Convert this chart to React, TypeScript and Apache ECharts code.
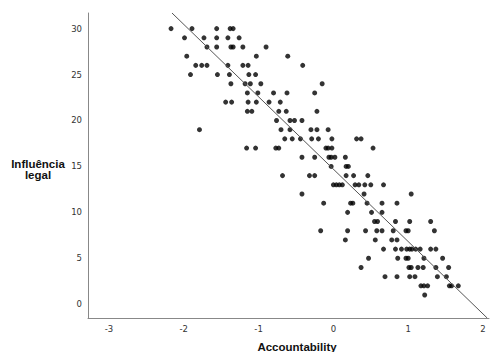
import React, { useEffect, useRef } from "react";
import * as echarts from "echarts";

// Influência legal (y) values, grouped by row, with Accountability (x) values
const Y30 = [-2.17, -1.89, -1.56, -1.38, -1.34];
const Y29 = [-1.99, -1.73, -1.56, -1.41, -1.26];
const Y28 = [-1.69, -1.56, -1.37, -1.34, -1.21, -0.9];
const Y27 = [-1.96, -1.03, -0.61];
const Y26 = [-1.84, -1.76, -1.69, -1.41, -1.21, -1.14, -0.41];
const Y25 = [-1.91, -1.55, -1.39, -1.13, -1.04];
const Y24 = [-1.37, -1.18, -1.11, -0.97, -0.15];
const Y23 = [-1.15, -1.01, -0.8, -0.62, -0.25];
const Y22 = [-1.44, -1.36, -1.14, -1.03, -0.86, -0.71];
const Y21 = [-1.15, -1.09, -0.73, -0.63, -0.22];
const Y20 = [-0.76, -0.58, -0.52, -0.42];
const Y19 = [-1.79, -0.7, -0.58, -0.3, -0.22, -0.07];
const Y18 = [-0.65, -0.55, -0.44, -0.29, -0.2, -0.02, 0.31, 0.37];
const Y17 = [-1.16, -1.04, -0.77, -0.73, -0.1, -0.07, -0.02, 0.53];
const Y16 = [-0.42, -0.25, -0.06, -0.03, 0.02, 0.16];
const Y15 = [-0.03, 0.17, 0.2];
const Y14 = [-0.68, -0.32, -0.25, 0.17, 0.27, 0.46];
const Y13 = [0.0, 0.04, 0.08, 0.12, 0.29, 0.34, 0.42, 0.5, 0.67];
const Y12 = [-0.42, 0.41, 1.04];
const Y11 = [-0.13, 0.23, 0.26, 0.45, 0.65, 0.85];
const Y10 = [0.19, 0.51, 0.65];
const Y9 = [0.55, 0.59, 0.83, 1.02, 1.3];
const Y8 = [-0.17, 0.19, 0.43, 0.58, 0.65, 0.8, 0.97, 1.0, 1.35];
const Y7 = [0.16, 0.56, 0.78, 0.85];
const Y6 = [0.67, 0.83, 0.91, 0.98, 1.02, 1.05, 1.1, 1.16, 1.3, 1.37];
const Y5 = [0.47, 0.86, 0.97, 1.0, 1.21, 1.46];
const Y4 = [0.37, 1.01, 1.04, 1.13, 1.2, 1.37, 1.54];
const Y3 = [0.69, 0.85, 1.02, 1.09, 1.39, 1.51];
const Y2 = [1.17, 1.21, 1.26, 1.55, 1.58, 1.67];
const Y1 = [1.22];

const ROWS: [number, number[]][] = [
  [30, Y30], [29, Y29], [28, Y28], [27, Y27], [26, Y26], [25, Y25],
  [24, Y24], [23, Y23], [22, Y22], [21, Y21], [20, Y20], [19, Y19],
  [18, Y18], [17, Y17], [16, Y16], [15, Y15], [14, Y14], [13, Y13],
  [12, Y12], [11, Y11], [10, Y10], [9, Y9], [8, Y8], [7, Y7],
  [6, Y6], [5, Y5], [4, Y4], [3, Y3], [2, Y2], [1, Y1],
];

// Tick labels
const X_TICKS = [-3, -2, -1, 0, 1, 2];
const Y_TICKS = [0, 5, 10, 15, 20, 25, 30];

// Fit line
const FIT_SLOPE = -7.88;
const FIT_INTERCEPT = 14.7;

const X_MIN = -3.28;
const X_MAX = 2.08;
const Y_MIN = -1.5;
const Y_MAX = 31.7;

const X_NAME = "Accountability";
const Y_NAME = "Influência\nlegal";

export default function App() {
  const ref = useRef<HTMLDivElement>(null);
  useEffect(() => {
    if (!ref.current) return;
    const chart = echarts.init(ref.current, undefined, { renderer: "svg" });
    const points: number[][] = [];
    ROWS.forEach(([y, xs]) => xs.forEach((x) => points.push([x, y])));
    const xTop = (Y_MAX - FIT_INTERCEPT) / FIT_SLOPE;
    const xBot = (Y_MIN - FIT_INTERCEPT) / FIT_SLOPE;
    const labelStyle = {
      color: "#333",
      fontSize: 8.5,
      fontFamily: "DejaVu Sans, sans-serif",
    };
    chart.setOption({
      animation: false,
      grid: { left: 88, top: 13, right: 4, bottom: 34 },
      xAxis: {
        type: "value",
        min: X_MIN,
        max: X_MAX,
        splitLine: { show: false },
        axisTick: { show: false },
        axisLine: { onZero: false, lineStyle: { color: "#888", width: 1 } },
        axisLabel: {
          ...labelStyle,
          margin: 6,
          customValues: X_TICKS,
          formatter: (v: number) => String(v),
        },
      },
      yAxis: {
        type: "value",
        min: Y_MIN,
        max: Y_MAX,
        splitLine: { show: false },
        axisTick: { show: false },
        axisLine: { show: true, onZero: false, lineStyle: { color: "#888", width: 1 } },
        axisLabel: {
          ...labelStyle,
          margin: 6,
          customValues: Y_TICKS,
          formatter: (v: number) => String(v),
        },
      },
      graphic: [
        {
          type: "text",
          x: 297,
          y: 347,
          style: {
            text: X_NAME,
            fill: "#111",
            font: "bold 11.5px 'Liberation Sans', Arial, sans-serif",
            align: "center",
            verticalAlign: "middle",
          },
        },
        {
          type: "text",
          x: 38,
          y: 169,
          style: {
            text: Y_NAME,
            fill: "#111",
            font: "bold 11.5px 'Liberation Sans', Arial, sans-serif",
            align: "center",
            verticalAlign: "middle",
            lineHeight: 11,
          },
        },
      ],
      series: [
        {
          type: "scatter",
          data: points,
          symbol: "circle",
          symbolSize: 5,
          itemStyle: { color: "#000" },
        },
        {
          type: "line",
          data: [
            [xTop, Y_MAX],
            [xBot, Y_MIN],
          ],
          symbol: "none",
          lineStyle: { color: "#555", width: 1 },
        },
      ],
    });
    return () => chart.dispose();
  }, []);
  return (
    <div
      ref={ref}
      style={{ position: "fixed", left: 0, top: 0, width: 493, height: 352, background: "#fff" }}
    />
  );
}
